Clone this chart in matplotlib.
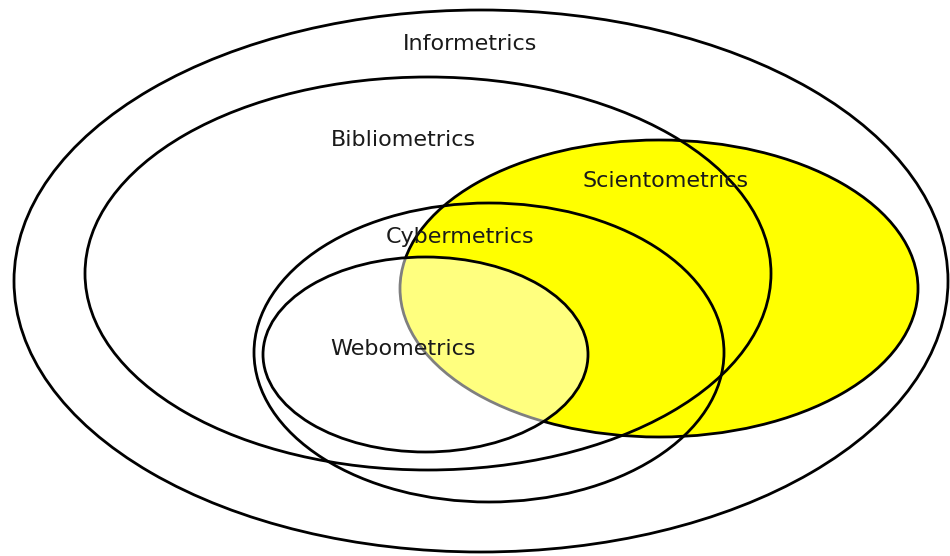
import matplotlib
matplotlib.use("Agg")
import matplotlib.pyplot as plt
from matplotlib.patches import Ellipse

# Sets (ellipses) in pixel space: centre x, centre y, width, height
names = ["Informetrics", "Bibliometrics", "Scientometrics", "Cybermetrics", "Webometrics"]
cx = [481, 428, 659, 489, 425.5]
cy = [281, 273.5, 288.5, 352.5, 354.5]
ew = [934, 686, 518, 470, 325]
eh = [542, 393, 297, 299, 195]
label_x = [470, 403, 666, 460, 403]
label_y = [44, 140, 181, 237, 349]

fig = plt.figure(figsize=(9.5, 5.56), dpi=100)
ax = fig.add_axes([0, 0, 1, 1])
ax.set_xlim(0, 950)
ax.set_ylim(556, 0)
ax.axis("off")

lw = 2.0
for i, n in enumerate(names):
    if n == "Scientometrics":
        ax.add_patch(Ellipse((cx[i], cy[i]), ew[i], eh[i], facecolor="#FFFF00",
                             edgecolor="black", lw=lw, zorder=1))
    elif n == "Webometrics":
        ax.add_patch(Ellipse((cx[i], cy[i]), ew[i], eh[i], facecolor="white",
                             alpha=0.5, edgecolor="none", zorder=3))
        ax.add_patch(Ellipse((cx[i], cy[i]), ew[i], eh[i], facecolor="none",
                             edgecolor="black", lw=lw, zorder=4))
    else:
        ax.add_patch(Ellipse((cx[i], cy[i]), ew[i], eh[i], facecolor="none",
                             edgecolor="black", lw=lw, zorder=2))

for i, n in enumerate(names):
    ax.text(label_x[i], label_y[i], n, ha="center", va="center", fontsize=16,
            family="DejaVu Sans", color="#1a1a1a", zorder=5)

fig.savefig("out.png", dpi=100)
